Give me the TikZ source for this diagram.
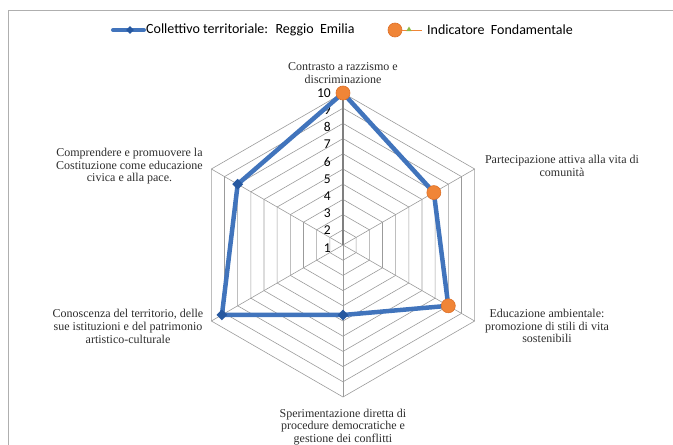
\documentclass[tikz,border=0pt]{standalone}
\usepackage{fontspec}
\setmainfont{Liberation Serif}
\newfontfamily\legendfont{Carlito}
\usetikzlibrary{shapes.geometric, positioning}
\definecolor{serieblue}{RGB}{65,116,188}
\definecolor{markblue}{RGB}{38,88,160}
\definecolor{indorange}{RGB}{240,133,55}
\definecolor{indedge}{RGB}{222,112,40}
\definecolor{webgray}{RGB}{155,155,155}
\definecolor{framegray}{RGB}{175,175,175}
\definecolor{tickgreen}{RGB}{140,185,70}
\definecolor{labelgray}{RGB}{45,45,45}
\tikzset{
    x=1pt, y=1pt, % one unit is one pixel of the chart, the centre of the web is the origin
    webline/.style = {draw=webgray, line width=0.6pt}, % the hexagons and spokes of the web
    axislabel/.style = {align=center, font=\fontsize{12}{12.7}\selectfont, text=labelgray, inner sep=0pt},
    ticklabel/.style = {anchor=east, font=\legendfont\fontsize{13.5}{14}\selectfont, inner sep=0pt},
    serie/.style = {draw=serieblue, line width=4.5pt, line join=round},
    dmark/.style = {diamond, fill=markblue, minimum size=11pt, inner sep=0pt}, % blue series marker
    omark/.style = {circle, fill=indorange, draw=indedge, line width=0.6pt, minimum size=14pt, inner sep=0pt}, % orange indicator marker
    legendtext/.style = {anchor=west, font=\legendfont\fontsize{14}{16}\selectfont, inner sep=0pt}
}
\begin{document}
\begin{tikzpicture}
    \useasboundingbox (-343,-200) rectangle (330,245);
    % frame of the chart, its right and bottom sides are outside the picture
    \draw[framegray, line width=0.8pt] (-335,-215) |- (345,235);

    % web: ten hexagons, then the spokes
    \foreach \k in {1,...,10}
        \draw[webline] (90:15.2*\k) \foreach \a in {30,-30,-90,210,150} {-- (\a:15.2*\k)} -- cycle;
    \coordinate (c) at (0,0);
    \foreach \a/\n in {90/1,30/2,-30/3,-90/4,210/5,150/6}
        \coordinate (o\n) at (\a:152);
    \foreach \n in {2,...,6}
        \draw[webline] (c) -- (o\n);
    \draw[draw=gray, line width=1.1pt] (c) -- (o1); % value axis

    % values of the axis
    \foreach \k in {1,...,10}
        \node[ticklabel] (t\k) at (-12,{152-17.2*(10-\k)}) {\k};

    % the series: Reggio Emilia
    \coordinate (p1) at (90:152);
    \coordinate (p2) at (30:104.9);
    \coordinate (p3) at (-30:121.6);
    \coordinate (p4) at (-90:70);
    \coordinate (p5) at (210:139.8);
    \coordinate (p6) at (150:121.6);
    \draw[serie] (p1) -- (p2) -- (p3) -- (p4) -- (p5) -- (p6) -- cycle;
    \node[dmark] (d4) at (p4) {};
    \node[dmark] (d5) at (p5) {};
    \node[dmark] (d6) at (p6) {};
    \node[omark] (i1) at (p1) {};
    \node[omark] (i2) at (p2) {};
    \node[omark] (i3) at (p3) {};

    % names of the axes
    \node[axislabel] (lab1) at (0,172) {Contrasto a razzismo e\\discriminazione};
    \node[axislabel] (lab2) at (219,79) {Partecipazione attiva alla vita di\\comunità};
    \node[axislabel] (lab3) at (204,-81) {Educazione ambientale:\\promozione di stili di vita\\sostenibili};
    \node[axislabel] (lab4) at (0,-182) {Sperimentazione diretta di\\procedure democratiche e\\gestione dei conflitti};
    \node[axislabel] (lab5) at (-215,-81.5) {Conoscenza del territorio, delle\\sue istituzioni e del patrimonio\\artistico-culturale};
    \node[axislabel] (lab6) at (-213.5,78.7) {Comprendere e promuovere la\\Costituzione come educazione\\civica e alla pace.};

    % legend
    \coordinate (lb0) at (-230,215);
    \coordinate (lb1) at (-199,215);
    \draw[serie, line width=4pt, line cap=round] (lb0) -- (lb1);
    \node[dmark, minimum size=8pt] (lbm) at (-213,215) {};
    \node[legendtext, right=2pt of lb1] (lbt) {Collettivo territoriale:~ Reggio~ Emilia};
    \coordinate (lo1) at (79,215);
    \node[omark] (lom) at (52,215) {};
    \draw[indorange, line width=1pt] (lom) -- (lo1);
    \node[regular polygon, regular polygon sides=3, fill=tickgreen, minimum size=6pt, inner sep=0pt] (lot) at (66,215.5) {};
    \node[legendtext, right=5pt of lo1] (lott) {Indicatore~ Fondamentale};
\end{tikzpicture}
\end{document}
